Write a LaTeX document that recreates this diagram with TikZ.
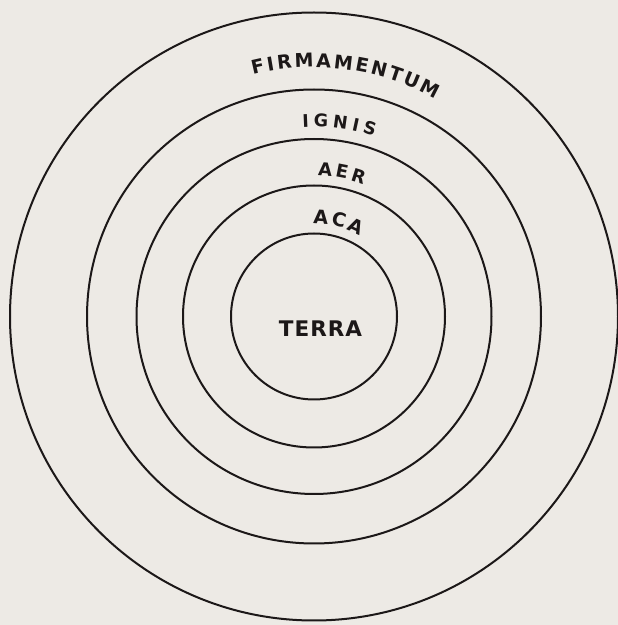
\documentclass[tikz,border=0pt]{standalone}
\usepackage{fontspec}
\setmainfont{DejaVu Sans}
\usepackage{tikz}
\usetikzlibrary{calc}
\definecolor{paper}{RGB}{237,234,229}
\definecolor{ink}{RGB}{28,24,24}

\newdimen\glyphw
\newsavebox\glyphbox
\newcommand\glyphfont[1]{\fontsize{#1}{#1}\bfseries\selectfont}
\newcommand\glyphwidth[2]{%
  \pgfinterruptpicture\global\setbox\glyphbox=\hbox{\glyphfont{#1}#2}\endpgfinterruptpicture
  \glyphw=\wd\glyphbox}
% name, size, radius, centre angle, gap, letters
\newcommand\arcword[6]{%
  \xdef\arclen{0}%
  \foreach \ch in {#6}{%
    \glyphwidth{#2}{\ch}%
    \pgfmathparse{\arclen+\glyphw+#5}%
    \xdef\arclen{\pgfmathresult}}%
  \pgfmathsetmacro\arcstart{#4+(\arclen-#5)/2/#3*180/pi}%
  \xdef\arcpos{0}%
  \foreach \ch [count=\i] in {#6}{%
    \glyphwidth{#2}{\ch}%
    \pgfmathsetmacro\ang{\arcstart-(\arcpos+\glyphw/2)/#3*180/pi}%
    \node[glyph=#2,rotate=\ang-90] (#1-\i) at ($(c)+(\ang:#3)$) {\ch};
    \pgfmathparse{\arcpos+\glyphw+#5}%
    \xdef\arcpos{\pgfmathresult}}%
}

\begin{document}
\begin{tikzpicture}[x=1pt,y=1pt,
    ring/.style={ink,line width=2pt},
    glyph/.style={ink,inner sep=0pt,font=\glyphfont{#1}}]
  \fill[paper] (0,0) rectangle (618,625);
  \useasboundingbox (0,0) rectangle (618,625);
  \coordinate (c) at (314,308.5);
  % the spheres, earth outwards
  \foreach \r in {83,131,177.5,227,304}
    \draw[ring] (c) circle (\r pt);
  % names set letter by letter along the rings
  \arcword{firm}{19}{256}{82.5}{3}{F,I,R,M,A,M,E,N,T,U,M}
  \arcword{ignis}{17.5}{196}{82.5}{5}{I,G,N,I,S}
  \arcword{aer}{18}{147.5}{79}{4}{A,E,R}
  \arcword{aca}{19}{100}{75.5}{4}{A,C,A}
  \node[glyph=21.5] (terra) at (320.5,296.5) {T\kern1pt E\kern1pt R\kern1pt R\kern1pt A};
\end{tikzpicture}
\end{document}
